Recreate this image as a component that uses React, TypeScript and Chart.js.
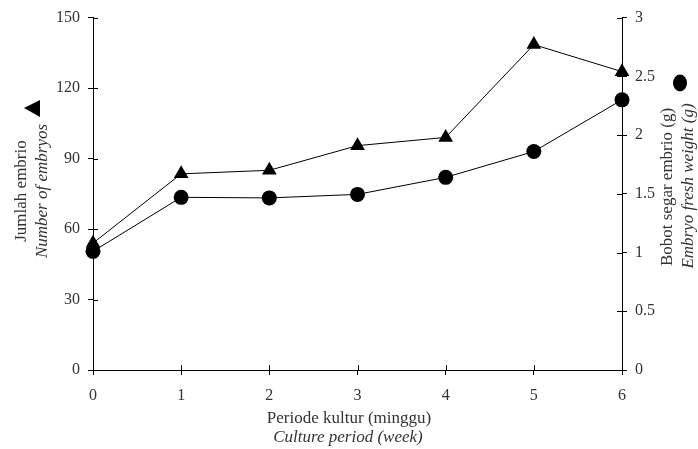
import React, { useEffect, useRef } from 'react';
import { Chart, registerables } from 'chart.js';
Chart.register(...registerables);

const weeks = [0, 1, 2, 3, 4, 5, 6];
const embryoCount = [54, 83.5, 85, 95.5, 99, 138.5, 127];
const freshWeight = [1.01, 1.47, 1.465, 1.495, 1.64, 1.86, 2.3];
const leftTitle = ['Jumlah embrio', 'Number of embryos'];
const rightTitle = ['Bobot segar embrio (g)', 'Embryo fresh weight (g)'];
const xTitle = ['Periode kultur (minggu)', 'Culture period (week)'];

const FONT = '"Liberation Serif", "Times New Roman", serif';
const TEXT = '#333';

const extras = {
  id: 'extras',
  afterDraw(chart: any) {
    const ctx = chart.ctx;
    const { x, y, y1 } = chart.scales;
    const area = chart.chartArea;
    ctx.save();
    // inner half of crossing ticks
    ctx.strokeStyle = '#000';
    ctx.lineWidth = 1;
    ctx.beginPath();
    y.ticks.forEach((t: any) => {
      const p = Math.round(y.getPixelForValue(t.value)) + 0.5;
      ctx.moveTo(area.left, p);
      ctx.lineTo(area.left + 5, p);
    });
    y1.ticks.forEach((t: any) => {
      const p = Math.round(y1.getPixelForValue(t.value)) + 0.5;
      ctx.moveTo(area.right, p);
      ctx.lineTo(area.right - 5, p);
    });
    x.ticks.forEach((t: any) => {
      const p = Math.round(x.getPixelForValue(t.value)) + 0.5;
      ctx.moveTo(p, area.bottom);
      ctx.lineTo(p, area.bottom - 5);
    });
    ctx.stroke();

    ctx.fillStyle = TEXT;
    ctx.textAlign = 'center';
    ctx.textBaseline = 'middle';
    const vText = (s: string, cx: number, cy: number, italic: boolean) => {
      ctx.save();
      ctx.translate(cx, cy);
      ctx.rotate(-Math.PI / 2);
      ctx.font = `${italic ? 'italic ' : ''}17px ${FONT}`;
      ctx.fillText(s, 0, 0);
      ctx.restore();
    };
    vText(leftTitle[0], 22, 191, false);
    vText(leftTitle[1], 43, 191, true);
    vText(rightTitle[0], 668, 187, false);
    vText(rightTitle[1], 689, 186, true);
    // x title
    ctx.font = `17px ${FONT}`;
    ctx.fillText(xTitle[0], 349, 419);
    ctx.font = `italic 17px ${FONT}`;
    ctx.fillText(xTitle[1], 348, 438);

    // legend markers
    ctx.fillStyle = '#000';
    ctx.beginPath();
    ctx.moveTo(24, 108);
    ctx.lineTo(40, 100);
    ctx.lineTo(40, 117);
    ctx.closePath();
    ctx.fill();
    ctx.beginPath();
    ctx.ellipse(680, 83, 7, 8.5, 0, 0, Math.PI * 2);
    ctx.fill();
    ctx.restore();
  },
};

export default function App() {
  const ref = useRef<HTMLCanvasElement>(null);
  useEffect(() => {
    if (!ref.current) return;
    const tickFont = { family: FONT, size: 16 };
    const chart = new Chart(ref.current, {
      type: 'line',
      data: {
        datasets: [
          {
            label: 'Number of embryos',
            data: weeks.map((w, i) => ({ x: w, y: embryoCount[i] })),
            yAxisID: 'y',
            borderColor: '#000',
            backgroundColor: '#000',
            borderWidth: 1,
            pointStyle: 'triangle',
            pointRadius: 8.5,
            pointBorderWidth: 0,
            clip: false as any,
            tension: 0,
          },
          {
            label: 'Embryo fresh weight (g)',
            data: weeks.map((w, i) => ({ x: w, y: freshWeight[i] })),
            yAxisID: 'y1',
            borderColor: '#000',
            backgroundColor: '#000',
            borderWidth: 1,
            pointStyle: 'circle',
            pointRadius: 7.5,
            pointBorderWidth: 0,
            clip: false as any,
            tension: 0,
          },
        ],
      },
      options: {
        responsive: false,
        animation: false,
        layout: { padding: { top: 17 } },
        plugins: { legend: { display: false }, tooltip: { enabled: false } },
        scales: {
          x: {
            type: 'linear',
            min: 0,
            max: 6,
            ticks: { stepSize: 1, font: tickFont, color: TEXT, padding: 11 },
            grid: { drawOnChartArea: false, tickLength: 5, color: '#000' },
            border: { display: true, color: '#000' },
            afterFit: (s: any) => { s.height = 79; },
          },
          y: {
            position: 'left',
            min: 0,
            max: 150,
            ticks: { stepSize: 30, font: tickFont, color: TEXT, padding: 8 },
            grid: { drawOnChartArea: false, tickLength: 5, color: '#000' },
            border: { display: true, color: '#000' },
            afterFit: (s: any) => { s.width = 93; },
          },
          y1: {
            position: 'right',
            min: 0,
            max: 3,
            ticks: { stepSize: 0.5, font: tickFont, color: TEXT, padding: 8, callback: (v: any) => String(v) },
            grid: { drawOnChartArea: false, tickLength: 5, color: '#000' },
            border: { display: true, color: '#000' },
            afterFit: (s: any) => { s.width = 76; },
          },
        },
      },
      plugins: [extras],
    });
    return () => chart.destroy();
  }, []);
  return (
    <div style={{ position: 'absolute', left: 0, top: 0, width: 698, height: 449, background: '#fff' }}>
      <canvas ref={ref} width={698} height={449} style={{ display: 'block' }} />
    </div>
  );
}
